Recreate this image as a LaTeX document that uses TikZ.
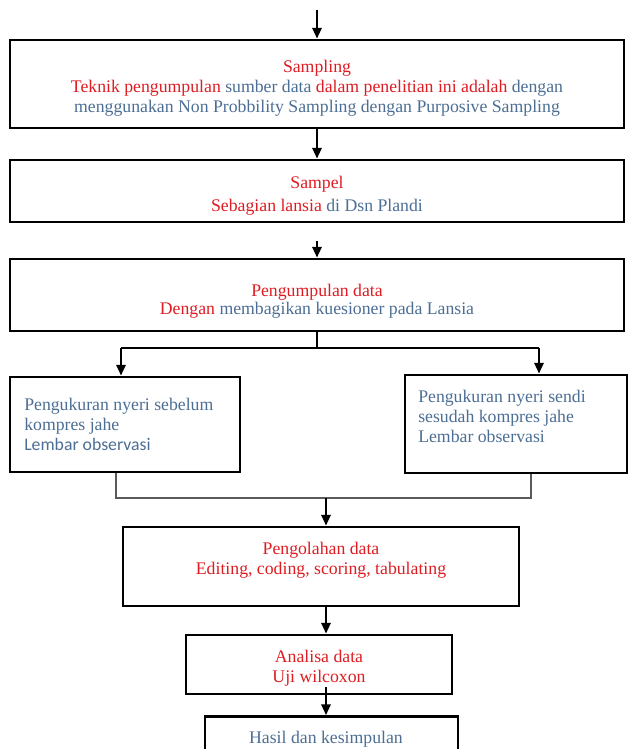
\documentclass[tikz,border=0pt]{standalone}
\usepackage{fontspec}
\setmainfont{Liberation Serif}
\newfontfamily\calfont{Carlito}
\usetikzlibrary{arrows.meta}
\definecolor{tred}{RGB}{222,28,34}
\definecolor{tblue}{RGB}{76,110,148}
\definecolor{lgray}{RGB}{90,90,90}
\tikzset{
  box/.style={draw=black, line width=2.2pt, inner sep=0pt},
  txt/.style={inner sep=0pt, align=center, font=\fontsize{13.3}{15}\selectfont},
  arr/.style={line width=1.5pt, -{Triangle[length=8pt,width=7pt]}},
  thin/.style={line width=1.1pt, draw=lgray},
}
\begin{document}
\begin{tikzpicture}[x=0.75pt,y=-0.75pt]
\useasboundingbox (0,0) rectangle (629,749);
% boxes
\node[box, minimum width=460.5pt, minimum height=66pt] (b1) at (317,84) {};
\node[txt] (t1) at (317,88)
  {\textcolor{tred}{Sampling}\\
   \textcolor{tred}{Teknik pengumpulan} \textcolor{tblue}{sumber data} \textcolor{tred}{dalam penelitian ini adalah} \textcolor{tblue}{dengan}\\
   \textcolor{tblue}{menggunakan Non Probbility Sampling dengan Purposive Sampling}};
\node[box, minimum width=460.5pt, minimum height=46.5pt] (b2) at (317,191) {};
\node[txt] (t2) at (317,196)
  {\textcolor{tred}{Sampel}\\[2.25pt]
   \textcolor{tred}{Sebagian lansia} \textcolor{tblue}{di Dsn Plandi}};
\node[box, minimum width=460.5pt, minimum height=54pt] (b3) at (317,295) {};
\node[txt] (t3) at (317,301)
  {\textcolor{tred}{Pengumpulan data}\\[-1.5pt]
   \textcolor{tred}{Dengan} \textcolor{tblue}{membagikan kuesioner pada Lansia}};
\node[box, minimum width=172.5pt, minimum height=71.25pt] (b4) at (125,424.5) {};
\node[txt, anchor=west, align=left, text=tblue] (t4) at (24,424.5)
  {Pengukuran nyeri sebelum\\kompres jahe\\{\calfont Lembar observasi}};
\node[box, minimum width=166.5pt, minimum height=73.5pt] (b5) at (516,424) {};
\node[txt, anchor=west, align=left, text=tblue] (t5) at (418,416)
  {Pengukuran nyeri sendi\\sesudah kompres jahe\\Lembar observasi};
\node[box, minimum width=297pt, minimum height=59.25pt] (b6) at (321,566.5) {};
\node[txt, text=tred] (t6) at (321,560)
  {Pengolahan data\\Editing, coding, scoring, tabulating};
\node[box, minimum width=199.5pt, minimum height=44.25pt] (b7) at (319,664.5) {};
\node[txt, text=tred] (t7) at (319,668.5)
  {Analisa data\\Uji wilcoxon};
\node[box, minimum width=189.75pt, minimum height=33pt] (b8) at (331.5,738.5) {};
\node[txt, text=tblue] (t8) at (326,739)
  {Hasil dan kesimpulan};
% coordinates
\coordinate (c0) at (317,10);
\coordinate (c2) at (317,241);
\coordinate (s) at (317,348);
\coordinate (la) at (121,348);
\coordinate (ra) at (539,348);
\coordinate (lb) at (116,498);
\coordinate (rb) at (531,498);
\coordinate (m) at (326,498);
\coordinate (m2) at (326,607);
\coordinate (m3) at (326,687);
% connectors
\draw[arr] (c0) -- (b1.north);
\draw[arr] (b1.south) -- (b2.north);
\draw[arr] (c2) -- (b3.north);
\draw[line width=1.1pt] (b3.south) -- (s);
\draw[line width=1.1pt] (la) -- (ra);
\draw[arr] (la) -- (la |- b4.north);
\draw[arr] (ra) -- (ra |- b5.north);
\draw[thin] (lb |- b4.south) -- (lb) -- (rb) -- (rb |- b5.south);
\draw[arr] (m) -- (m |- b6.north);
\draw[arr] (m2) -- (m2 |- b7.north);
\draw[arr] (m3) -- (m3 |- b8.north);
\end{tikzpicture}
\end{document}
